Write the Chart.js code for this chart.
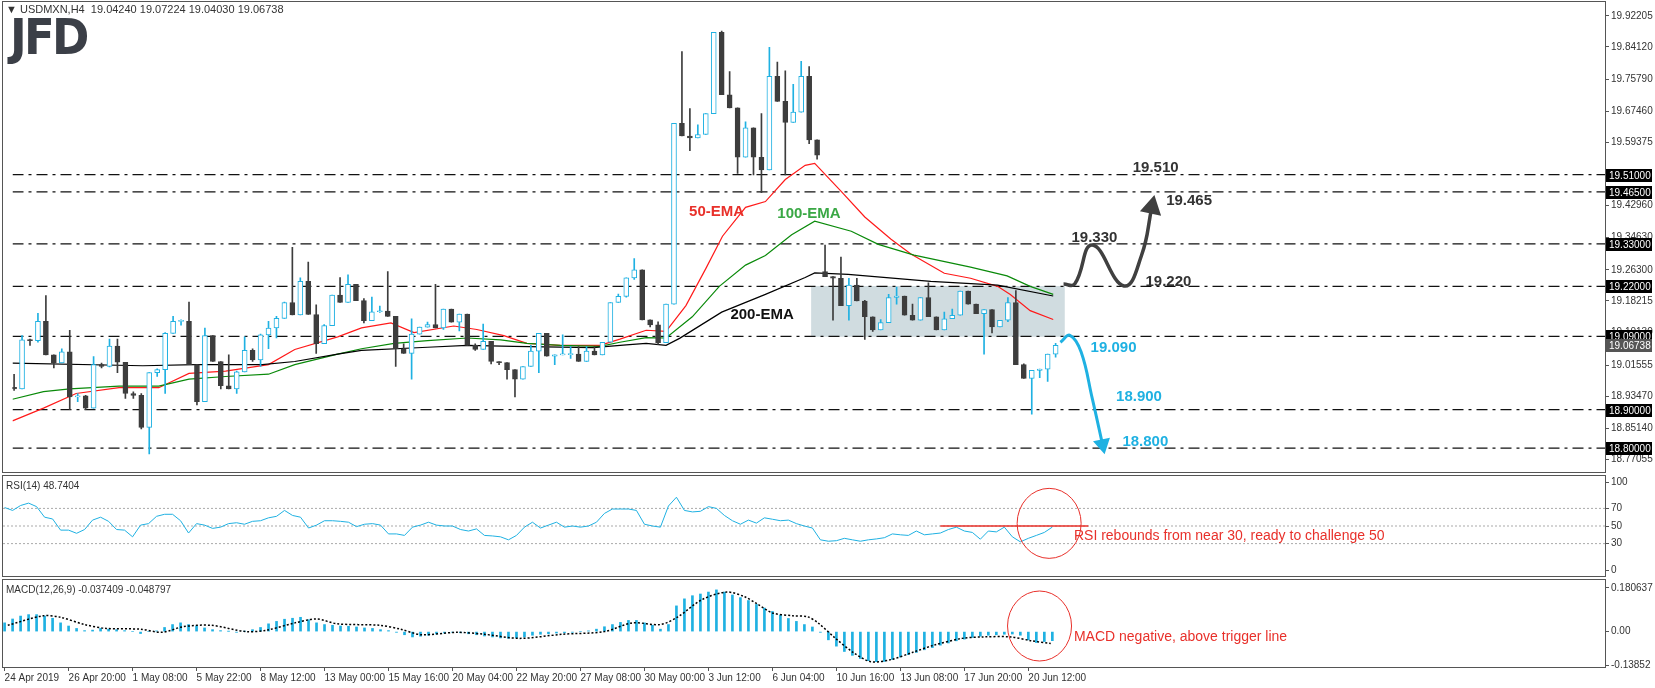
<!DOCTYPE html>
<html>
<head>
<meta charset="utf-8">
<script src="https://cdn.jsdelivr.net/npm/chart.js@4/dist/chart.umd.min.js"></script>
<style>
  body { margin: 0; background: #fff; width: 1655px; height: 688px; overflow: hidden; position: relative; font-family: "Liberation Sans", sans-serif; }
  .pane { position: absolute; left: 0; width: 1655px; }
  .frame { position: absolute; border: 1px solid #555; pointer-events: none; box-sizing: border-box; }
  .label { position: absolute; font-size: 11px; color: #333; white-space: pre; }
  #logo { position: absolute; left: 10px; top: 8px; font: bold 50px "DejaVu Sans", sans-serif; color: #3b3f47; letter-spacing: -3px; transform: scaleX(0.9); transform-origin: left; }
</style>
</head>
<body>
<div class="pane" style="top:0;height:474px"><canvas id="mainChart"></canvas></div>
<div class="pane" style="top:474px;height:104px"><canvas id="rsiChart"></canvas></div>
<div class="pane" style="top:578px;height:110px"><canvas id="macdChart"></canvas></div>
<div class="frame" style="left:2px;top:1px;width:1604px;height:472px"></div>
<div class="frame" style="left:2px;top:475px;width:1604px;height:102px"></div>
<div class="frame" style="left:2px;top:579px;width:1604px;height:89px"></div>
<div class="label" style="left:6px;top:3px">▼ USDMXN,H4  19.04240 19.07224 19.04030 19.06738</div>
<div id="logo">JFD</div>
<div class="label" style="left:6px;top:480px;font-size:10px">RSI(14) 48.7404</div>
<div class="label" style="left:6px;top:584px;font-size:10px">MACD(12,26,9) -0.037409 -0.048797</div>
<script>
// each candle = one 8h step, x = index
const firstOpen = 18.958;
const closes = [
  18.954,19.081,19.079,19.129,19.042,19.021,19.050,18.933,18.936,18.904,
  19.017,19.012,19.065,19.023,18.942,18.937,18.854,18.996,19.004,19.098,
  19.129,19.129,19.017,18.921,19.092,19.025,18.962,18.954,18.998,19.054,
  19.029,19.094,19.112,19.137,19.178,19.146,19.233,19.147,19.071,19.118,
  19.197,19.178,19.225,19.183,19.131,19.154,19.156,19.142,19.058,19.046,
  19.096,19.114,19.121,19.112,19.161,19.127,19.148,19.067,19.056,19.077,
  19.025,19.022,19.004,18.979,19.012,19.052,19.098,19.039,19.042,19.043,
  19.044,19.025,19.052,19.042,19.075,19.178,19.194,19.242,19.263,19.133,
  19.120,19.074,19.174,19.643,19.610,19.605,19.614,19.668,19.879,19.717,
  19.683,19.555,19.631,19.555,19.522,19.765,19.700,19.645,19.672,19.765,
  19.600,19.560,19.245,19.241,19.170,19.223,19.182,19.141,19.107,19.126,
  19.191,19.195,19.145,19.132,19.191,19.141,19.107,19.136,19.145,19.208,
  19.174,19.149,19.160,19.115,19.132,19.178,19.017,18.981,19.002,19.005,
  19.044,19.067
];
const highs = [
  18.992,19.092,19.083,19.150,19.196,19.042,19.058,19.106,18.942,18.937,
  19.038,19.021,19.083,19.083,19.008,18.946,18.942,18.996,19.006,19.100,
  19.142,19.133,19.179,19.017,19.112,19.092,19.025,19.042,19.000,19.089,
  19.058,19.096,19.129,19.142,19.179,19.321,19.242,19.283,19.172,19.121,
  19.197,19.243,19.250,19.225,19.188,19.192,19.169,19.258,19.142,19.071,
  19.136,19.114,19.127,19.225,19.161,19.156,19.148,19.148,19.071,19.122,
  19.077,19.025,19.022,19.004,19.012,19.067,19.098,19.098,19.042,19.094,
  19.064,19.064,19.064,19.064,19.075,19.178,19.200,19.242,19.292,19.263,
  19.132,19.128,19.174,19.643,19.829,19.681,19.639,19.668,19.879,19.882,
  19.777,19.683,19.647,19.631,19.668,19.840,19.802,19.779,19.744,19.804,
  19.790,19.600,19.327,19.245,19.296,19.241,19.241,19.184,19.141,19.134,
  19.199,19.218,19.195,19.174,19.191,19.229,19.141,19.153,19.161,19.208,
  19.206,19.174,19.160,19.160,19.132,19.191,19.209,19.019,19.002,19.005,
  19.044,19.072
];
const lows = [
  18.950,18.954,19.067,19.075,19.042,19.008,19.021,18.900,18.921,18.900,
  18.904,19.008,19.011,18.996,18.929,18.929,18.850,18.785,18.986,18.942,
  19.098,19.119,19.017,18.912,19.036,19.025,18.954,18.954,18.942,18.998,
  19.025,19.012,19.058,19.086,19.137,19.146,19.204,19.147,19.046,19.071,
  19.118,19.178,19.178,19.183,19.125,19.131,19.152,19.142,19.012,19.046,
  18.979,19.096,19.114,19.112,19.108,19.127,19.104,19.067,19.054,19.056,
  19.019,19.017,18.979,18.933,18.979,19.012,18.996,19.039,19.017,19.042,
  19.033,19.025,19.025,19.042,19.046,19.075,19.178,19.192,19.238,19.133,
  19.115,19.069,19.074,19.174,19.610,19.572,19.614,19.614,19.668,19.717,
  19.683,19.513,19.555,19.509,19.463,19.522,19.700,19.509,19.645,19.672,
  19.590,19.550,19.245,19.132,19.170,19.132,19.182,19.082,19.103,19.107,
  19.126,19.174,19.145,19.132,19.142,19.141,19.107,19.128,19.140,19.145,
  19.174,19.149,19.044,19.099,19.115,19.128,19.017,18.981,18.888,18.983,
  18.973,19.036
];
const gapOpens = { 102: 19.258 };

// moving averages: [index, price]
const ema50 = [[-0.2,18.871],[3.7,18.904],[7.8,18.942],[13.2,18.957],[18.2,18.957],[22,18.994],[26.6,19.0],[32,19.017],[35.3,19.056],[40.7,19.089],
  [43.7,19.112],[47.4,19.125],[50.3,19.10],[55.3,19.117],[58.2,19.108],[61.6,19.092],[64.5,19.072],[68.7,19.067],[73.7,19.067],[76.2,19.083],[79.5,19.106],
  [82,19.103],[84.5,19.17],[87,19.266],[89.1,19.35],[92,19.425],[94.5,19.44],[97,19.497],[99.5,19.534],[100.7,19.539],[104,19.467],[107,19.40],
  [110.3,19.342],[112.8,19.304],[117,19.254],[120.3,19.241],[123.7,19.22],[125.3,19.199],[127.8,19.157],[130.7,19.134]];
const ema100 = [[-0.2,18.927],[3.7,18.947],[7,18.954],[13.2,18.961],[18.2,18.961],[22,18.979],[26.6,18.986],[32,18.992],[35.3,19.017],[40.7,19.044],
  [43.7,19.058],[47.8,19.072],[52,19.079],[57,19.086],[61.2,19.081],[64.5,19.072],[68.7,19.067],[73.7,19.064],[76.2,19.075],[79.5,19.087],
  [82,19.086],[85.3,19.141],[88.7,19.22],[92,19.275],[94.5,19.30],[97.8,19.354],[100.7,19.389],[105.3,19.363],[108.7,19.329],[113.2,19.301],
  [120.3,19.27],[124.9,19.247],[127.8,19.22],[130.7,19.199]];
const ema200 = [[-0.2,19.021],[16.2,19.014],[22.8,19.017],[31.2,19.017],[35.3,19.025],[40.7,19.044],[43.7,19.054],[52,19.062],[57,19.067],
  [62.8,19.064],[72.8,19.061],[77,19.068],[79.5,19.072],[82,19.067],[83.7,19.085],[89,19.153],[94.5,19.199],[99.5,19.243],[100.7,19.255],
  [104.9,19.251],[115.3,19.233],[123.7,19.223],[130.7,19.195]];

const levels = [19.51, 19.465, 19.33, 19.22, 19.09, 18.90, 18.80];
const priceTicks = [19.92205,19.8412,19.7579,19.6746,19.59375,19.4296,19.3463,19.263,19.18215,19.1013,19.01555,18.9347,18.8514,18.77055];
const blackArrow = [[132,19.226],[133.4,19.226],[135.6,19.327],[139.6,19.221],[141.8,19.30],[143.1,19.425]];
const blueArrow = [[131.6,19.075],[132.8,19.093],[134.2,19.05],[135.6,18.93],[136.9,18.81]];
const notes = [
  ["19.510",140.7,19.528,"#333"],["19.465",144.9,19.442,"#333"],["19.330",133,19.347,"#333"],["19.220",142.3,19.231,"#333"],
  ["19.090",135.4,19.06,"#1fb1e2"],["18.900",138.6,18.932,"#1fb1e2"],["18.800",139.4,18.816,"#1fb1e2"],
  ["50-EMA",84.9,19.412,"#e8302a"],["100-EMA",96,19.407,"#3aa845"],["200-EMA",90.1,19.146,"#111"]
];

const rsi = [71,67.7,73.3,76,72,60,58,45.3,45.3,41.7,46,56.7,60,55.3,46,45.3,37.7,51,52.7,61,
  63.3,63.3,56,42,52.7,51,47.3,48.7,52.7,53.7,52,55.3,56,59.3,61,67.7,62,60,47.7,51,
  56,56,55.3,54.3,49.3,52,52.7,51,41,41,39.3,48.7,51,54.3,51,50,50,46,44.3,46.7,
  39.3,38.7,37.7,34.3,39.3,48.7,54.3,47.7,51,54.3,48.7,50,48.7,50,54.3,64.3,69.3,69.3,69.3,67.7,
  52,50,48.7,72.7,82.7,67.7,66,66.7,72,70,62,56,52,56.7,53.3,59.3,57.7,56,56.7,52.7,
  50,47.7,34.3,32.7,33.3,36,34.3,32.7,34.3,35.3,36.7,41,40,39.3,44.3,40,41,42,46,48.7,
  44.3,42.7,35,44.3,43.3,48.7,37.7,32,36,39.3,42.7,48.74];
const macd = [.036,.052,.064,.070,.070,.064,.055,.036,.023,.013,.004,.006,.013,.010,.008,.004,0,-.008,0,.003,
  .017,.029,.036,.029,.023,.015,.008,.004,.001,-.003,.001,.008,.017,.032,.042,.051,.055,.059,.049,.036,
  .029,.026,.023,.022,.019,.015,.013,.008,.004,-.003,-.013,-.022,-.019,-.015,-.010,-.006,-.003,-.005,-.009,-.013,
  -.018,-.022,-.026,-.028,-.026,-.022,-.015,-.011,-.009,-.006,-.005,-.003,0,.003,.010,.020,.029,.038,.046,.046,
  .036,.026,.010,.029,.106,.135,.148,.155,.163,.172,.163,.151,.140,.128,.112,.097,.083,.068,.054,.042,
  .029,.019,-.003,-.034,-.060,-.082,-.098,-.111,-.120,-.124,-.123,-.115,-.105,-.095,-.086,-.075,-.066,-.056,-.047,-.038,
  -.031,-.024,-.019,-.015,-.013,-.011,-.010,-.015,-.034,-.045,-.041,-.0374];
const signal = [[0.4,.026],[4.8,.065],[7,.059],[10,.029],[12.7,.013],[17,.010],[19.7,-.003],[22.3,.020],[25.8,.026],[30.2,0],[32.8,.006],
  [36.3,.036],[39,.052],[41.6,.032],[46.9,.026],[49.5,.010],[52.1,-.013],[56.5,-.003],[60,-.011],[64.4,-.028],[69.7,-.011],[75,0],
  [78.5,.036],[82,.029],[84.2,.061],[87.2,.132],[90.3,.163],[92.5,.144],[94.2,.112],[96,.077],[98.6,.065],[100.4,.061],[101.7,.036],
  [103.9,-.028],[106.1,-.086],[108.3,-.124],[110.9,-.115],[113.5,-.086],[116.2,-.056],[119.7,-.028],[122.3,-.022],[125.8,-.022],
  [128.4,-.038],[130.8,-.0488]];

const dateIdx = [0,8,16,24,32,40,48,56,64,72,80,88,96,104,112,120,128];
const dateLabels = ["24 Apr 2019","26 Apr 20:00","1 May 08:00","5 May 22:00","8 May 12:00","13 May 00:00","15 May 16:00",
  "20 May 04:00","22 May 20:00","27 May 08:00","30 May 00:00","3 Jun 12:00","6 Jun 04:00","10 Jun 16:00","13 Jun 08:00",
  "17 Jun 20:00","20 Jun 12:00"];

const UP = "#1fb1e2", DOWN = "#3d3d3d";
const X_MIN = -0.2, X_MAX = 200.1;
const FONT = { family: '"Liberation Sans", sans-serif', size: 10 };
const pts = (arr) => arr.map((p) => ({ x: p[0], y: p[1] }));

const opens = closes.map((c, i) => gapOpens[i] !== undefined ? gapOpens[i] : (i === 0 ? firstOpen : closes[i - 1]));

function xAxis(show) {
  const ax = { type: "linear", min: X_MIN, max: X_MAX, offset: false, display: show, grid: { display: false } };
  if (show) {
    ax.grid = { drawOnChartArea: false, tickLength: 4, color: "#555", offset: false };
    ax.border = { color: "#555" };
    ax.afterBuildTicks = (s) => { s.ticks = dateIdx.map((v) => ({ value: v })); };
    ax.afterFit = (s) => { s.height = 21; };
    ax.ticks = { autoSkip: false, maxRotation: 0, align: "start", padding: 1, color: "#333",
      font: { family: '"Liberation Sans", sans-serif', size: 10 },
      callback: (v, i) => dateLabels[i] };
  }
  return ax;
}

function yAxis(min, max, ticks, fmt) {
  return {
    position: "right", min: min, max: max,
    afterBuildTicks: (s) => { s.ticks = ticks.map((v) => ({ value: v })); },
    afterFit: (s) => { s.width = 50; },
    grid: { drawOnChartArea: false, tickLength: 4, color: "#555" },
    border: { display: false },
    ticks: { color: "#333", font: FONT, padding: 2, callback: fmt },
  };
}

const baseOpts = (padding) => ({
  responsive: true, maintainAspectRatio: false, animation: false,
  layout: { padding: padding },
  plugins: { legend: { display: false }, tooltip: { enabled: false } },
});

function hline(y, x0, x1, color, width, dash) {
  return { type: "line", data: [{ x: x0, y: y }, { x: x1, y: y }], borderColor: color, borderWidth: width,
    borderDash: dash, pointRadius: 0, order: 5 };
}

// main price panel
const boxes = [[19.51,"#000"],[19.465,"#000"],[19.33,"#000"],[19.22,"#000"],[19.09,"#000"],[19.06738,"#555"],[18.90,"#000"],[18.80,"#000"]];
const mainOverlay = {
  id: "mainOverlay",
  afterDraw(chart) {
    const { ctx, scales: { x, y } } = chart;
    ctx.save();
    ctx.textBaseline = "middle";
    notes.forEach((n) => {
      ctx.font = 'bold 15px "Liberation Sans", sans-serif';
      ctx.fillStyle = n[3];
      ctx.fillText(n[0], x.getPixelForValue(n[1]), y.getPixelForValue(n[2]));
    });
    ctx.font = '10px "Liberation Sans", sans-serif';
    boxes.forEach((b) => {
      const py = Math.round(y.getPixelForValue(b[0]));
      ctx.fillStyle = b[1];
      ctx.fillRect(x.right + 1, py - 6, 46, 13);
      ctx.fillStyle = "#fff";
      ctx.fillText(b[0].toFixed(5), x.right + 4, py + 1);
    });
    ctx.restore();
  },
};

const mainDatasets = [
  { type: "bar", data: [{ x: 116.2, y: [19.09, 19.22] }], barThickness: 253, backgroundColor: "rgba(196,211,216,0.8)", grouped: false, order: 10 },
];
levels.forEach((l) => mainDatasets.push(hline(l, X_MIN, X_MAX, "#111", 1.3, [11, 5, 3, 5])));
mainDatasets.push(
  { type: "line", data: pts(ema200), borderColor: "#000", borderWidth: 1.2, pointRadius: 0, order: 4 },
  { type: "line", data: pts(ema100), borderColor: "#0a8a0a", borderWidth: 1.2, pointRadius: 0, order: 4 },
  { type: "line", data: pts(ema50), borderColor: "#ff1a1a", borderWidth: 1.2, pointRadius: 0, order: 4 },
  { type: "bar", data: closes.map((c, i) => ({ x: i, y: [Math.min(lows[i], opens[i], c), Math.max(highs[i], opens[i], c)] })),
    backgroundColor: closes.map((c, i) => (c >= opens[i] ? UP : DOWN)), barThickness: 1, grouped: false, order: 3 },
  { type: "bar", data: closes.map((c, i) => ({ x: i, y: [opens[i], c] })),
    backgroundColor: closes.map((c, i) => (c >= opens[i] ? "#fff" : DOWN)),
    borderColor: closes.map((c, i) => (c >= opens[i] ? UP : DOWN)),
    borderWidth: 1, borderSkipped: false, minBarLength: 1, barThickness: 5, grouped: false, order: 2 },
  { type: "line", data: pts(blackArrow), borderColor: "#404040", borderWidth: 3.5, tension: 0.45,
    pointStyle: "triangle", pointRadius: blackArrow.map((p, i) => (i === blackArrow.length - 1 ? 9 : 0)),
    pointRotation: 12, pointBackgroundColor: "#404040", pointBorderColor: "#404040", order: 1 },
  { type: "line", data: pts(blueArrow), borderColor: UP, borderWidth: 3, tension: 0.4,
    pointStyle: "triangle", pointRadius: blueArrow.map((p, i) => (i === blueArrow.length - 1 ? 7 : 0)),
    pointRotation: 168, pointBackgroundColor: UP, pointBorderColor: UP, order: 1 }
);

new Chart(document.getElementById("mainChart"), {
  data: { datasets: mainDatasets },
  options: Object.assign(baseOpts({ top: 2, bottom: 2, left: 3, right: 0 }), {
    scales: { x: xAxis(false), y: yAxis(18.7655, 19.9305, priceTicks, (v) => v.toFixed(5)) },
  }),
  plugins: [mainOverlay],
});

// circle + comment, drawn on RSI and MACD panes
function noteOverlay(id, cx, cy, tx, ty, text) {
  return {
    id: id,
    afterDraw(chart) {
      const { ctx, scales: { x, y } } = chart;
      ctx.save();
      ctx.strokeStyle = "#e8302a";
      ctx.lineWidth = 1;
      ctx.beginPath();
      ctx.ellipse(x.getPixelForValue(cx), y.getPixelForValue(cy), 32, 35, 0, 0, Math.PI * 2);
      ctx.stroke();
      ctx.fillStyle = "#e8302a";
      ctx.font = '14px "Liberation Sans", sans-serif';
      ctx.textBaseline = "middle";
      ctx.fillText(text, x.getPixelForValue(tx), y.getPixelForValue(ty));
      ctx.restore();
    },
  };
}

new Chart(document.getElementById("rsiChart"), {
  data: {
    datasets: [
      hline(70, X_MIN, X_MAX, "#aaa", 1, [2, 2]),
      hline(50, X_MIN, X_MAX, "#aaa", 1, [2, 2]),
      hline(30, X_MIN, X_MAX, "#aaa", 1, [2, 2]),
      { type: "line", data: rsi.map((v, i) => ({ x: i, y: v })), borderColor: UP, borderWidth: 1, pointRadius: 0, order: 2 },
      Object.assign(hline(50, 117, 135.5, "#e8302a", 1.5, []), { order: 1 }),
    ],
  },
  options: Object.assign(baseOpts({ top: 2, bottom: 2, left: 3, right: 0 }), {
    scales: { x: xAxis(false), y: yAxis(0, 100, [100, 70, 50, 30, 0], (v) => String(v)) },
  }),
  plugins: [noteOverlay("rsiNote", 130.6, 53, 133.7, 39, "RSI rebounds from near 30, ready to challenge 50")],
});

const macdTickText = { "0.180637": "0.180637", "0": "0.00", "-0.13852": "-0.13852" };
new Chart(document.getElementById("macdChart"), {
  data: {
    datasets: [
      { type: "bar", data: macd.map((v, i) => ({ x: i, y: v })), backgroundColor: UP, barThickness: 2, grouped: false, order: 3 },
      { type: "line", data: pts(signal), borderColor: "#000", borderWidth: 1.5, borderDash: [2, 2], pointRadius: 0, tension: 0.3, order: 2 },
    ],
  },
  options: Object.assign(baseOpts({ top: 2, bottom: 0, left: 3, right: 0 }), {
    scales: { x: xAxis(true), y: yAxis(-0.146, 0.188, [0.180637, 0, -0.13852], (v) => macdTickText[String(v)]) },
  }),
  plugins: [noteOverlay("macdNote", 129.4, 0.023, 133.7, -0.023, "MACD negative, above trigger line")],
});
</script>
</body>
</html>
